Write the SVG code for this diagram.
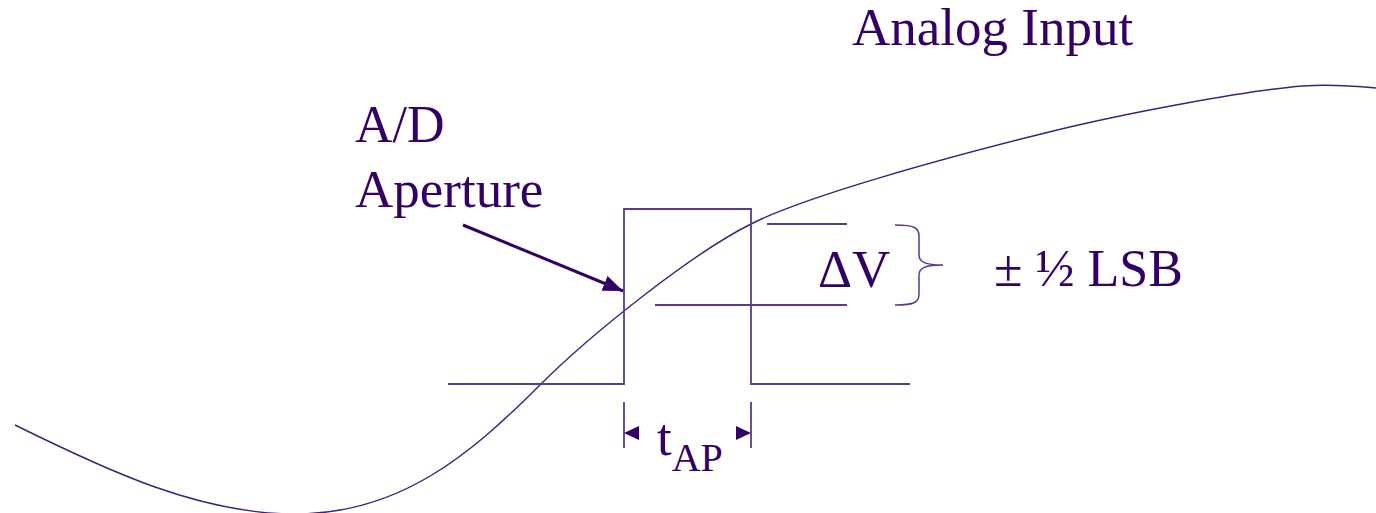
<svg xmlns="http://www.w3.org/2000/svg" width="1376" height="513" viewBox="0 0 1376 513">
<style>
text{font-family:"Liberation Serif","Times New Roman",serif;fill:#330066}
.ln{fill:none;stroke:#5a3a8e;stroke-width:1.8}
.cv{fill:none;stroke:#3f1f7a;stroke-width:1.4}
</style>
<defs>
<marker id="ah2" viewBox="0 0 20 16" refX="20" refY="8" markerWidth="20" markerHeight="16" orient="auto" markerUnits="userSpaceOnUse">
<path d="M0,0 L20,8 L0,16 Z" fill="#330066"/>
</marker>
</defs>
<g id="curve">
<path class="cv" d="M15,425 C108,471 200,514 295,514 C400,514 470,455 540,385 C590,335 691,254 751,224 C806,196 945,158 1045,133 C1125,113 1250,90 1303,86 C1330,84 1355,86 1376,88"/>
</g>
<g id="aperture">
<path class="ln" d="M448,384 H624 V209 H751 V384 H910"/>
</g>
<g id="deltaV">
<line class="ln" x1="767" y1="224" x2="847" y2="224"/>
<line class="ln" x1="655" y1="305" x2="847" y2="305"/>
<text x="818" y="287" font-size="53">ΔV</text>
</g>
<g id="brace">
<path class="ln" style="stroke-width:1.5" d="M895,225 C915,225 919,228 919,236 V255 C919,262 925,265 943,265 C925,265 919,268 919,275 V294 C919,302 915,305 895,305"/>
<text x="994" y="286" font-size="52">± ½ LSB</text>
</g>
<g id="tap">
<line class="ln" x1="624" y1="402" x2="624" y2="448"/>
<line class="ln" x1="751" y1="402" x2="751" y2="448"/>
<path d="M624,433 L639,426 L639,440 Z" fill="#330066"/>
<path d="M751,433 L736,426 L736,440 Z" fill="#330066"/>
<text x="657" y="455" font-size="53">t<tspan font-size="40" dy="16">AP</tspan></text>
</g>
<g id="label-ad">
<text x="355" y="142" font-size="52">A/D</text>
<text x="355" y="207" font-size="53">Aperture</text>
</g>
<g id="connectors">
<line x1="463" y1="225" x2="623" y2="291" stroke="#330066" stroke-width="3" marker-end="url(#ah2)"/>
</g>
<g id="title">
<text x="852" y="45" font-size="53">Analog Input</text>
</g>
</svg>
